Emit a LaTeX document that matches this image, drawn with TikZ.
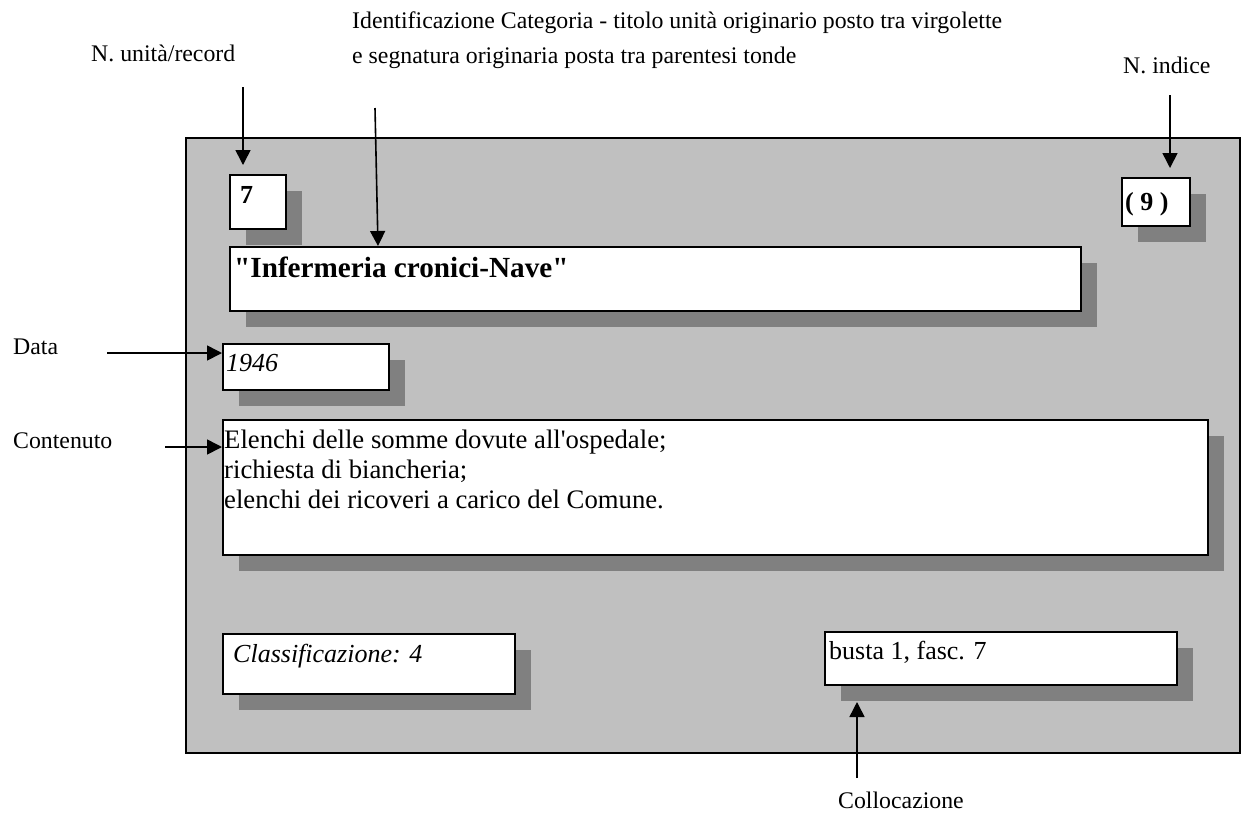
\documentclass[tikz,border=0pt]{standalone}
\usepackage{fontspec}
\setmainfont{Liberation Serif}
\usetikzlibrary{arrows.meta,shadows}
\definecolor{panelgray}{HTML}{C0C0C0}
\definecolor{shadowgray}{HTML}{808080}
\begin{document}
\begin{tikzpicture}[x=1pt,y=-1pt,
  box/.style={draw=black, line width=1.6pt, fill=white, inner sep=0pt, anchor=north west,
    general shadow={draw=none, fill=shadowgray, shadow xshift=16.5pt, shadow yshift=-16.5pt}},
  lbl/.style={anchor=base west, inner sep=0pt, font=\fontsize{23.8}{26.5}\selectfont},
  txt/.style={anchor=base west, inner sep=0pt, font=\fontsize{26}{28}\selectfont},
  ctxt/.style={anchor=base west, inner sep=0pt, font=\fontsize{26.7}{30}\selectfont},
  arr/.style={line width=1.6pt, -{Triangle[length=15pt,width=15pt]}}]
\useasboundingbox (0,0) rectangle (1241,815);
% panel
\node[draw=black, line width=1.5pt, fill=panelgray, inner sep=0pt, anchor=north west,
      minimum width=1054pt, minimum height=615pt] (panel) at (185,137) {};
% boxes
\node[box, minimum width=56pt, minimum height=54pt] (b7) at (229,174) {};
\node[box, minimum width=68pt, minimum height=48pt] (idx) at (1121,177) {};
\node[box, minimum width=851pt, minimum height=64pt] (tb) at (229,246) {};
\node[box, minimum width=166pt, minimum height=46pt] (date) at (222,343) {};
\node[box, minimum width=985pt, minimum height=135pt] (cont) at (222,419) {};
\node[box, minimum width=292pt, minimum height=60pt] (cls) at (222,633) {};
\node[box, minimum width=352pt, minimum height=53pt] (bus) at (824,631) {};
% box texts
\node[txt, font=\fontsize{26}{28}\selectfont\bfseries] (t7) at (240,203) {7};
\node[txt, font=\fontsize{26}{28}\selectfont\bfseries] (tidx) at (1125,210) {( 9 )};
\node[txt, font=\fontsize{29.2}{31}\selectfont\bfseries] (ttitle) at (234,277) {\textquotedbl Infermeria cronici-Nave\textquotedbl};
\node[txt, font=\fontsize{26}{28}\selectfont\itshape] (tdate) at (226,371) {1946};
\node[ctxt] (c1) at (224,448) {Elenchi delle somme dovute all\textquotesingle ospedale;};
\node[ctxt] (c2) at (224,478) {richiesta di biancheria;};
\node[ctxt] (c3) at (224,508) {elenchi dei ricoveri a carico del Comune.};
\node[txt, font=\fontsize{26}{28}\selectfont\itshape] (tcls) at (233,662) {Classificazione: 4};
\node[txt] (tbus) at (829,659) {busta 1, fasc. 7};
% outside labels
\node[lbl] (lrec) at (91,61) {N. unità/record};
\node[lbl] (lid1) at (352,28) {Identificazione Categoria - titolo unità originario posto tra virgolette};
\node[lbl] (lid2) at (352,63) {e segnatura originaria posta tra parentesi tonde};
\node[lbl] (lidx) at (1123,73) {N. indice};
\node[lbl] (ldata) at (13,354) {Data};
\node[lbl] (lcont) at (13,448) {Contenuto};
\node[lbl] (lcoll) at (838,808) {Collocazione};
% arrow free ends
\coordinate (a1s) at (243,87);
\coordinate (a1e) at (243,165);
\coordinate (a2s) at (375,108);
\coordinate (a2e) at (378,246);
\coordinate (a3s) at (1170,95);
\coordinate (a3e) at (1170,168);
\coordinate (a4s) at (107,353);
\coordinate (a5s) at (165,447);
\coordinate (a6s) at (857,778);
\coordinate (a6e) at (857,702);
% arrows
\draw[arr] (a1s) -- (a1e);
\draw[arr] (a2s) -- (a2e |- tb.north);
\draw[arr] (a3s) -- (a3e);
\draw[arr] (a4s) -- (a4s -| date.west);
\draw[arr] (a5s) -- (a5s -| cont.west);
\draw[arr] (a6s) -- (a6e);
\end{tikzpicture}
\end{document}
